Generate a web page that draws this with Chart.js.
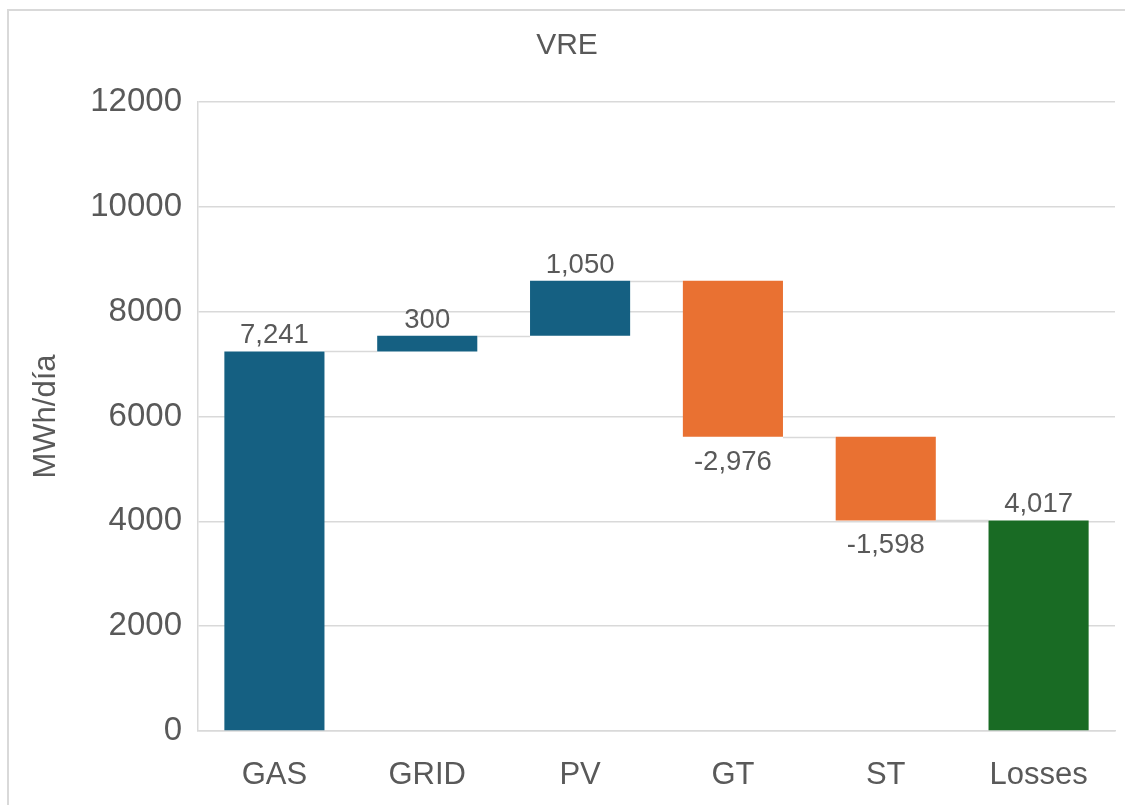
<!DOCTYPE html>
<html><head><meta charset="utf-8">
<script src="https://cdn.jsdelivr.net/npm/chart.js@4/dist/chart.umd.min.js"></script>
<style>
html,body{margin:0;padding:0;background:#fff;overflow:hidden;}
#frame{position:absolute;left:7px;top:9px;width:1300px;height:1000px;border:2px solid #d9d9d9;box-sizing:border-box;}
#wrap{position:absolute;left:0;top:0;width:1125px;height:805px;}
</style></head><body>
<div id="frame"></div>
<div id="wrap"><canvas id="c"></canvas></div>
<script>
const categories = ['GAS', 'GRID', 'PV', 'GT', 'ST', 'Losses'];
const values = [7241, 300, 1050, -2976, -1598, 4017];
const isTotal = [false, false, false, false, false, true];
const yTickValues = [0, 2000, 4000, 6000, 8000, 10000, 12000];

const COLOR_UP = '#156082';
const COLOR_DOWN = '#E97132';
const COLOR_TOTAL = '#196B24';
const TEXT = '#595959';
const GRID = '#d9d9d9';

let run = 0;
const ranges = values.map((v, i) => {
  if (isTotal[i]) { run = v; return [0, v]; }
  const s = run; run += v; return [s, run];
});
const colors = values.map((v, i) => isTotal[i] ? COLOR_TOTAL : (v >= 0 ? COLOR_UP : COLOR_DOWN));

Chart.defaults.font.family = "'Liberation Sans', Arial, sans-serif";

const fmt = new Intl.NumberFormat('en-US');

const connectors = {
  id: 'connectors',
  beforeDatasetsDraw(chart) {
    const meta = chart.getDatasetMeta(0);
    const y = chart.scales.y;
    const ctx = chart.ctx;
    ctx.save();
    ctx.strokeStyle = GRID;
    ctx.lineWidth = 1.5;
    for (let i = 0; i < meta.data.length - 1; i++) {
      const a = meta.data[i], b = meta.data[i + 1];
      const py = Math.round(y.getPixelForValue(ranges[i][1])) + 0.5;
      ctx.beginPath();
      ctx.moveTo(a.x + a.width / 2, py);
      ctx.lineTo(b.x - b.width / 2, py);
      ctx.stroke();
    }
    ctx.restore();
  }
};

const labels = {
  id: 'labels',
  afterDatasetsDraw(chart) {
    const meta = chart.getDatasetMeta(0);
    const y = chart.scales.y;
    const ctx = chart.ctx;
    ctx.save();
    ctx.fillStyle = TEXT;
    ctx.font = "27.5px 'Liberation Sans', Arial, sans-serif";
    ctx.textAlign = 'center';
    ctx.textBaseline = 'alphabetic';
    meta.data.forEach((bar, i) => {
      const v = values[i];
      const top = y.getPixelForValue(Math.max(ranges[i][0], ranges[i][1]));
      const bot = y.getPixelForValue(Math.min(ranges[i][0], ranges[i][1]));
      const txt = fmt.format(v);
      if (v >= 0) ctx.fillText(txt, bar.x, top - 8);
      else ctx.fillText(txt, bar.x, bot + 33);
    });
    ctx.restore();
  }
};

new Chart(document.getElementById('c'), {
  type: 'bar',
  data: {
    labels: categories,
    datasets: [{
      data: ranges,
      backgroundColor: colors,
      borderWidth: 0,
      barPercentage: 0.655,
      categoryPercentage: 1
    }]
  },
  options: {
    responsive: true,
    maintainAspectRatio: false,
    animation: false,
    layout: { padding: { left: 19, right: 10, top: 0, bottom: 0 } },
    plugins: {
      legend: { display: false },
      tooltip: { enabled: false },
      title: {
        display: true, text: 'VRE', color: TEXT,
        font: { size: 30, weight: 'normal' },
        padding: { top: 28, bottom: 38 }
      }
    },
    scales: {
      x: {
        grid: { display: false },
        border: { display: true, color: GRID, width: 1.5 },
        ticks: { color: TEXT, font: { size: 31 }, padding: 18 },
        afterFit: s => { s.height = 74; }
      },
      y: {
        min: yTickValues[0],
        max: yTickValues[yTickValues.length - 1],
        afterBuildTicks: s => { s.ticks = yTickValues.map(v => ({ value: v })); },
        ticks: { color: TEXT, font: { size: 33 }, padding: 16, callback: v => String(v) },
        grid: { color: GRID, lineWidth: 1.5, drawTicks: false },
        border: { display: true, color: GRID, width: 1.5 },
        title: { display: true, text: 'MWh/día', color: TEXT, font: { size: 31 }, padding: { top: 9, bottom: 0 } },
        afterFit: s => { s.width = 179; }
      }
    }
  },
  plugins: [connectors, labels]
});
</script>
</body></html>
